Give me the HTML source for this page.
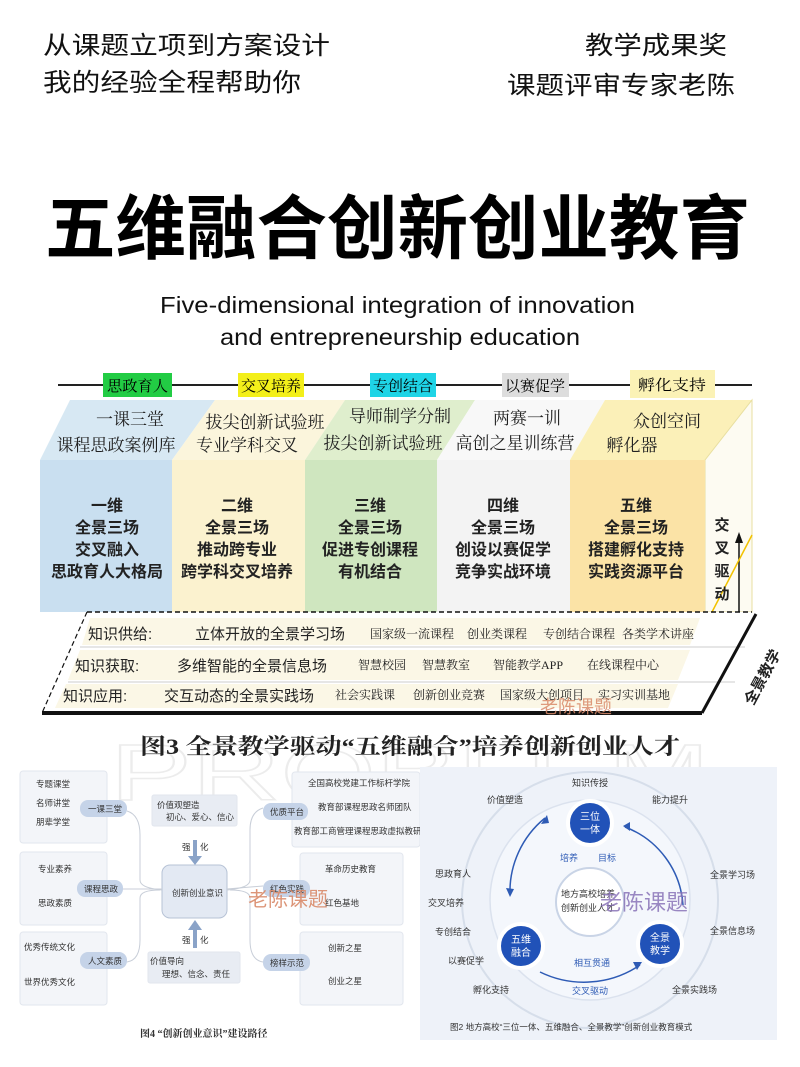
<!DOCTYPE html>
<html><head><meta charset="utf-8"><style>
html,body{margin:0;padding:0;background:#fff;}
svg{display:block;}
text{font-family:"Liberation Sans","Noto Sans CJK SC",sans-serif;}
.s{font-family:"Liberation Serif","Noto Serif CJK SC",serif;}
</style></head><body>
<svg width="800" height="1067" viewBox="0 0 800 1067" xmlns="http://www.w3.org/2000/svg">
<rect width="800" height="1067" fill="#fff"/>
<text x="110" y="800" font-size="80" fill="none" stroke="#ececec" stroke-width="1.5" textLength="600" lengthAdjust="spacingAndGlyphs">PROBLEM</text>
<!-- header -->
<g font-size="25" fill="#111">
<text x="43" y="54" textLength="287" lengthAdjust="spacingAndGlyphs">从课题立项到方案设计</text>
<text x="43" y="91" textLength="258" lengthAdjust="spacingAndGlyphs">我的经验全程帮助你</text>
<text x="585" y="54" textLength="142" lengthAdjust="spacingAndGlyphs">教学成果奖</text>
<text x="507" y="94" textLength="228" lengthAdjust="spacingAndGlyphs">课题评审专家老陈</text>
</g>
<text x="45" y="253" font-size="70" font-weight="bold" fill="#000" textLength="705" lengthAdjust="spacingAndGlyphs">五维融合创新创业教育</text>
<text x="160" y="313" font-size="23" fill="#111" textLength="475" lengthAdjust="spacingAndGlyphs">Five-dimensional integration of innovation</text>
<text x="220" y="345" font-size="23" fill="#111" textLength="360" lengthAdjust="spacingAndGlyphs">and entrepreneurship education</text>

<!-- top diagram -->
<line x1="58" y1="385" x2="752" y2="385" stroke="#222" stroke-width="2"/>
<g font-size="15" class="s">
<rect x="103" y="373" width="69" height="24" fill="#22cc44"/><text class="s" x="107" y="391" textLength="61" lengthAdjust="spacingAndGlyphs">思政育人</text>
<rect x="238" y="373" width="66" height="24" fill="#f3ef1a"/><text class="s" x="241" y="391" textLength="60" lengthAdjust="spacingAndGlyphs">交叉培养</text>
<rect x="370" y="373" width="66" height="24" fill="#1fd4e6"/><text class="s" x="373" y="391" textLength="60" lengthAdjust="spacingAndGlyphs">专创结合</text>
<rect x="502" y="373" width="67" height="24" fill="#ddd"/><text class="s" x="505" y="391" textLength="60" lengthAdjust="spacingAndGlyphs">以赛促学</text>
<rect x="630" y="370" width="85" height="28" fill="#fbf2b6"/><text class="s" x="638" y="390" textLength="68" lengthAdjust="spacingAndGlyphs">孵化支持</text>
</g>
<polygon points="40,460 70,400 215,400 172,460" fill="#d7e8f3"/>
<polygon points="172,460 215,400 345,400 305,460" fill="#fbf5dc"/>
<polygon points="305,460 345,400 475,400 437,460" fill="#dfeecd"/>
<polygon points="437,460 475,400 605,400 570,460" fill="#f8f8f8"/>
<polygon points="570,460 605,400 752,400 705,460" fill="#fbf0b8"/>
<polygon points="705,460 752,400 752,612 705,612" fill="#fdfbf2" stroke="#e8dfa0"/>
<rect x="40" y="460" width="132" height="152" fill="#c9dff0"/>
<rect x="172" y="460" width="133" height="152" fill="#fbf2cf"/>
<rect x="305" y="460" width="132" height="152" fill="#cfe6bf"/>
<rect x="437" y="460" width="133" height="152" fill="#f3f3f3"/>
<rect x="570" y="460" width="135" height="152" fill="#fbe3a6"/>
<g class="s" font-size="17" fill="#222" text-anchor="middle">
<text class="s" x="130" y="425">一课三堂</text><text class="s" x="116" y="451">课程思政案例库</text>
<text class="s" x="265" y="428">拔尖创新试验班</text><text class="s" x="247" y="451">专业学科交叉</text>
<text class="s" x="400" y="422">导师制学分制</text><text class="s" x="383" y="449">拔尖创新试验班</text>
<text class="s" x="527" y="424">两赛一训</text><text class="s" x="515" y="449">高创之星训练营</text>
<text class="s" x="667" y="427">众创空间</text><text class="s" x="632" y="451">孵化器</text>
</g>
<g font-size="16" font-weight="bold" fill="#222" text-anchor="middle">
<text x="107" y="511">一维</text><text x="107" y="533">全景三场</text><text x="107" y="555">交叉融入</text><text x="107" y="577">思政育人大格局</text>
<text x="237" y="511">二维</text><text x="237" y="533">全景三场</text><text x="237" y="555">推动跨专业</text><text x="237" y="577">跨学科交叉培养</text>
<text x="370" y="511">三维</text><text x="370" y="533">全景三场</text><text x="370" y="555">促进专创课程</text><text x="370" y="577">有机结合</text>
<text x="503" y="511">四维</text><text x="503" y="533">全景三场</text><text x="503" y="555">创设以赛促学</text><text x="503" y="577">竞争实战环境</text>
<text x="636" y="511">五维</text><text x="636" y="533">全景三场</text><text x="636" y="555">搭建孵化支持</text><text x="636" y="577">实践资源平台</text>
</g>
<line x1="739" y1="612" x2="739" y2="540" stroke="#111" stroke-width="1.5"/>
<polygon points="739,532 735,543 743,543" fill="#111"/>
<line x1="712" y1="612" x2="752" y2="535" stroke="#f2c200" stroke-width="1.5"/>
<g font-size="15" font-weight="bold" fill="#222" text-anchor="middle"><text x="722" y="530">交</text><text x="722" y="553">叉</text><text x="722" y="576">驱</text><text x="722" y="599">动</text></g>
<polygon points="87,612 752,612 702,713 42,713" fill="#fff"/>
<polygon points="90,618 700,618 690,645 82,645" fill="#fbf7e6"/>
<polygon points="80,650 690,650 678,680 68,680" fill="#fbf7e6"/>
<polygon points="66,684 678,684 668,708 55,708" fill="#fbf7e6"/>
<line x1="87" y1="612" x2="752" y2="612" stroke="#111" stroke-width="1.5" stroke-dasharray="5,3"/>
<line x1="87" y1="612" x2="42" y2="713" stroke="#111" stroke-width="1.2" stroke-dasharray="5,3"/>
<line x1="80" y1="647" x2="745" y2="647" stroke="#ccc" stroke-width="1"/>
<line x1="68" y1="682" x2="735" y2="682" stroke="#ccc" stroke-width="1"/>
<line x1="42" y1="713" x2="702" y2="713" stroke="#111" stroke-width="4"/>
<line x1="702" y1="713" x2="756" y2="614" stroke="#111" stroke-width="3"/>
<text x="0" y="0" font-size="15" font-weight="bold" fill="#222" transform="translate(753,706) rotate(-62)">全景教学</text>
<g font-size="15" fill="#222">
<text x="88" y="639">知识供给:</text><text x="195" y="639">立体开放的全景学习场</text>
<text x="75" y="671">知识获取:</text><text x="177" y="671">多维智能的全景信息场</text>
<text x="63" y="701">知识应用:</text><text x="164" y="701">交互动态的全景实践场</text>
</g>
<g font-size="12" fill="#222" class="s">
<text class="s" x="370" y="638">国家级一流课程</text><text class="s" x="467" y="638">创业类课程</text><text class="s" x="543" y="638">专创结合课程</text><text class="s" x="622" y="638">各类学术讲座</text>
<text class="s" x="358" y="669">智慧校园</text><text class="s" x="422" y="669">智慧教室</text><text class="s" x="493" y="669">智能教学APP</text><text class="s" x="587" y="669">在线课程中心</text>
<text class="s" x="335" y="699">社会实践课</text><text class="s" x="413" y="699">创新创业竞赛</text><text class="s" x="500" y="699">国家级大创项目</text><text class="s" x="598" y="699">实习实训基地</text>
</g>
<text x="540" y="713" font-size="18" fill="#d98a6a" opacity="0.85">老陈课题</text>
<text x="140" y="754" font-size="22" font-weight="bold" fill="#222" class="s" textLength="540" lengthAdjust="spacingAndGlyphs">图3 全景教学驱动“五维融合”培养创新创业人才</text>

<!-- bottom-left diagram -->
<g fill="#f3f5f9" stroke="#e2e6ee">
<rect x="20" y="771" width="87" height="72" rx="3"/>
<rect x="20" y="852" width="87" height="73" rx="3"/>
<rect x="20" y="932" width="87" height="73" rx="3"/>
<rect x="292" y="772" width="128" height="75" rx="3"/>
<rect x="300" y="853" width="103" height="72" rx="3"/>
<rect x="300" y="932" width="103" height="73" rx="3"/>
<rect x="152" y="795" width="85" height="31" rx="2" fill="#e8ecf3"/>
<rect x="148" y="952" width="92" height="31" rx="2" fill="#e8ecf3"/>
<rect x="162" y="865" width="65" height="53" rx="8" fill="#e3e9f3" stroke="#b7c3d6"/>
</g>
<g fill="none" stroke="#c8ced8" stroke-width="1">
<path d="M127,811 Q140,815 140,835 L140,880 Q140,888 162,890"/>
<path d="M123,889 L162,889"/>
<path d="M127,962 Q140,960 140,940 L140,898 Q140,890 160,890"/>
<path d="M263,808 Q250,812 250,830 L250,880 Q250,888 227,890"/>
<path d="M263,886 L227,889"/>
<path d="M263,962 Q250,960 250,940 L250,898 Q250,890 230,890"/>
</g>
<rect x="193" y="840" width="4" height="18" fill="#8aa3c8"/><polygon points="188,856 202,856 195,865" fill="#8aa3c8"/>
<rect x="193" y="928" width="4" height="20" fill="#8aa3c8"/><polygon points="188,930 202,930 195,920" fill="#8aa3c8"/>
<g fill="#c5d3e8">
<rect x="80" y="800" width="47" height="17" rx="8"/><rect x="77" y="880" width="46" height="17" rx="8"/><rect x="80" y="952" width="47" height="17" rx="8"/>
<rect x="263" y="803" width="45" height="17" rx="8"/><rect x="263" y="880" width="47" height="17" rx="8"/><rect x="263" y="954" width="47" height="17" rx="8"/>
</g>
<g font-size="8.5" fill="#333">
<text x="36" y="787">专题课堂</text><text x="36" y="806">名师讲堂</text><text x="36" y="825">朋辈学堂</text>
<text x="38" y="872">专业素养</text><text x="38" y="906">思政素质</text>
<text x="24" y="950">优秀传统文化</text><text x="24" y="985">世界优秀文化</text>
<text x="88" y="812">一课三堂</text><text x="84" y="892">课程思政</text><text x="88" y="964">人文素质</text>
<text x="270" y="815">优质平台</text><text x="270" y="892">红色实践</text><text x="270" y="966">榜样示范</text>
<text x="308" y="786">全国高校党建工作标杆学院</text><text x="318" y="810">教育部课程思政名师团队</text><text x="294" y="834">教育部工商管理课程思政虚拟教研室</text>
<text x="325" y="872">革命历史教育</text><text x="325" y="906">红色基地</text>
<text x="328" y="951">创新之星</text><text x="328" y="984">创业之星</text>
<text x="157" y="808">价值观塑造</text><text x="166" y="820">初心、爱心、信心</text>
<text x="182" y="850">强</text><text x="200" y="850">化</text>
<text x="172" y="896">创新创业意识</text>
<text x="182" y="943">强</text><text x="200" y="943">化</text>
<text x="150" y="964">价值导向</text><text x="162" y="977">理想、信念、责任</text>
</g>
<text x="248" y="906" font-size="20" fill="#d98a6a" opacity="0.9">老陈课题</text>
<text x="140" y="1037" font-size="10" font-weight="bold" fill="#333" class="s">图4 “创新创业意识”建设路径</text>

<!-- bottom-right diagram -->
<rect x="420" y="767" width="357" height="273" fill="#eef2f9"/>
<circle cx="590" cy="900" r="128" fill="none" stroke="#d6deea" stroke-width="2"/>
<circle cx="590" cy="900" r="100" fill="#f4f7fc" stroke="#dbe2ee" stroke-width="1.5"/>
<g fill="none" stroke="#2e5bb5" stroke-width="1.5">
<path d="M545,818 A95,95 0 0 0 510,895"/>
<path d="M625,827 A90,90 0 0 1 683,905"/>
<path d="M540,972 A100,100 0 0 0 640,965"/>
</g>
<polygon points="547,815 541,824 549,823" fill="#2e5bb5"/>
<polygon points="510,897 506,888 514,889" fill="#2e5bb5"/>
<polygon points="623,826 630,822 630,831" fill="#2e5bb5"/>
<polygon points="642,962 633,962 637,970" fill="#2e5bb5"/>
<circle cx="590" cy="902" r="34" fill="#fff" stroke="#c9d4e6" stroke-width="2"/>
<g fill="#2152b8" stroke="#fff" stroke-width="4">
<circle cx="590" cy="823" r="22"/><circle cx="521" cy="946" r="22"/><circle cx="660" cy="944" r="22"/>
</g>
<g font-size="10" fill="#fff" text-anchor="middle">
<text x="590" y="820">三位</text><text x="590" y="833">一体</text>
<text x="521" y="943">五维</text><text x="521" y="956">融合</text>
<text x="660" y="941">全景</text><text x="660" y="954">教学</text>
</g>
<g font-size="9" fill="#333" text-anchor="middle">
<text x="588" y="897">地方高校培养</text><text x="588" y="911">创新创业人才</text>
</g>
<g font-size="9" fill="#2e5bb5">
<text x="560" y="861">培养</text><text x="598" y="861">目标</text>
<text x="574" y="966">相互贯通</text><text x="572" y="994">交叉驱动</text>
</g>
<g font-size="9" fill="#333">
<text x="572" y="786">知识传授</text><text x="487" y="803">价值塑造</text><text x="652" y="803">能力提升</text>
<text x="435" y="877">思政育人</text><text x="428" y="906">交叉培养</text><text x="435" y="935">专创结合</text>
<text x="448" y="964">以赛促学</text><text x="473" y="993">孵化支持</text>
<text x="710" y="878">全景学习场</text><text x="710" y="934">全景信息场</text><text x="672" y="993">全景实践场</text>
</g>
<text x="600" y="910" font-size="22" fill="#8a74b8" opacity="0.85">老陈课题</text>
<text x="450" y="1030" font-size="8.5" fill="#333">图2 地方高校“三位一体、五维融合、全景教学”创新创业教育模式</text>
</svg>
</body></html>
